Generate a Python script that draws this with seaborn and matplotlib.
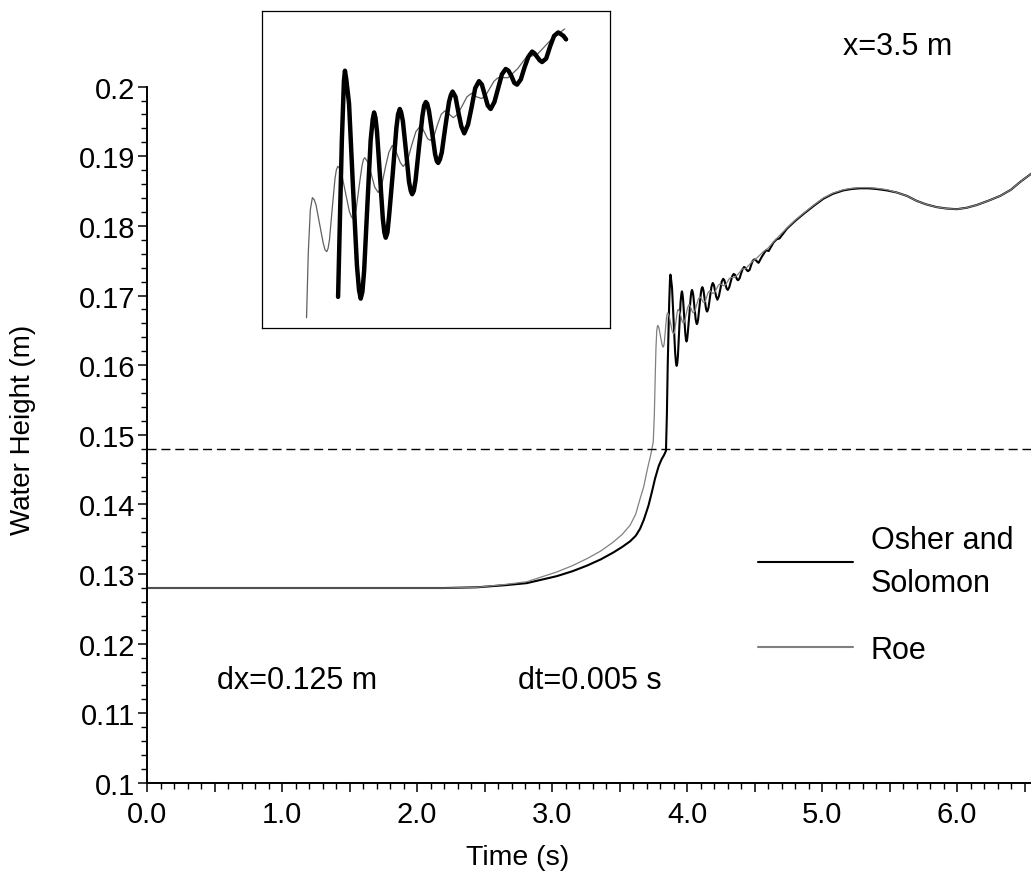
import matplotlib
matplotlib.use("Agg")
import matplotlib.pyplot as plt
import pandas as pd
import seaborn as sns
from matplotlib.ticker import MultipleLocator, FuncFormatter

# ---------------- data (time s, water height m) ----------------
osher = [
    (0.0, .1280), (1.0, .1280), (1.874, .1280), (2.2, .1280), (2.442, .1281),
    (2.65, .1284), (2.813, .1287), (3.035, .1297), (3.15, .1304), (3.257, .1312),
    (3.36, .1321), (3.454, .1331), (3.52, .1339), (3.578, .1347), (3.62, .1355),
    (3.652, .1365), (3.68, .1378), (3.714, .1398), (3.74, .1418), (3.763, .1437),
    (3.79, .1455), (3.812, .1465), (3.83, .1471),
    (3.844, .1477), (3.851, .1530), (3.857, .1600), (3.863, .1650), (3.868, .1690),
    (3.874, .1724), (3.877, .1730), (3.881, .1725), (3.889, .1711), (3.900, .1665),
    (3.912, .1618), (3.918, .1604), (3.923, .1599), (3.928, .1603), (3.933, .1615),
    (3.9425, .1653), (3.952, .1690), (3.958, .1702), (3.962, .1706), (3.966, .1703),
    (3.9705, .1695), (3.979, .1670), (3.9875, .1645), (3.992, .1637), (3.996, .1634),
    (4.001, .1637), (4.006, .1647), (4.0165, .1671), (4.027, .1697), (4.032, .1705),
    (4.037, .1708), (4.041, .1706), (4.046, .1701), (4.055, .1684), (4.064, .1666),
    (4.069, .1661), (4.073, .1659), (4.078, .1661), (4.083, .1667), (4.093, .1686),
    (4.103, .1704), (4.108, .1710), (4.113, .1712), (4.117, .1711), (4.122, .1707),
    (4.131, .1695), (4.140, .1682), (4.145, .1678), (4.149, .1677), (4.154, .1679),
    (4.1595, .1683), (4.170, .1698), (4.1805, .1712), (4.186, .1716), (4.191, .1718),
    (4.1995, .1715), (4.208, .1706), (4.2165, .1698), (4.225, .1694), (4.236, .1699),
    (4.2465, .1709), (4.257, .1720), (4.268, .1724), (4.2765, .1722), (4.285, .1716),
    (4.2935, .1710), (4.302, .1708), (4.313, .1712), (4.324, .1720), (4.335, .1728),
    (4.346, .1731), (4.354, .1730), (4.3625, .1727), (4.371, .1723), (4.379, .1722),
    (4.390, .1725), (4.401, .1732), (4.412, .1738), (4.423, .1741), (4.430, .1740),
    (4.4375, .1738), (4.445, .1736), (4.452, .1735), (4.464, .1737), (4.4755, .1744),
    (4.487, .1750), (4.499, .1752), (4.507, .1751), (4.5145, .1750), (4.522, .1748),
    (4.530, .1747), (4.555, .1756), (4.585, .1765), (4.605, .1764), (4.640, .1776),
    (4.665, .1781), (4.685, .1782), (4.740, .1796), (4.800, .1807), (4.862, .1817),
    (4.94, .1829), (5.010, .1839), (5.08, .1846), (5.158, .1851), (5.22, .1853),
    (5.281, .1854), (5.34, .1854), (5.405, .1853), (5.48, .1851), (5.553, .1848),
    (5.63, .1843), (5.701, .1836), (5.77, .1831), (5.849, .1827), (5.92, .1825),
    (5.998, .1824), (6.07, .1826), (6.146, .1830), (6.23, .1836), (6.319, .1843),
    (6.40, .1852), (6.467, .1863), (6.55, .1875),
]

roe = [
    (0.0, .1280), (1.0, .1280), (1.874, .1280), (2.2, .1280), (2.442, .1281),
    (2.65, .1285), (2.813, .1289), (3.035, .1303), (3.15, .1312), (3.257, .1322),
    (3.36, .1333), (3.454, .1346), (3.52, .1357), (3.578, .1370), (3.62, .1386),
    (3.652, .1408), (3.68, .1426), (3.701, .1446), (3.715, .1458), (3.730, .1470),
    (3.750, .1490),
    (3.758, .1530), (3.765, .1588), (3.770, .1625), (3.776, .1650), (3.782, .1657),
    (3.787, .1656), (3.7925, .1653), (3.803, .1642), (3.8135, .1631), (3.819, .1627),
    (3.824, .1626), (3.828, .1628), (3.832, .1633), (3.840, .1651), (3.848, .1668),
    (3.852, .1673), (3.856, .1675), (3.861, .1674), (3.867, .1671), (3.8785, .1660),
    (3.890, .1649), (3.896, .1646), (3.901, .1645), (3.905, .1646), (3.9095, .1650),
    (3.918, .1663), (3.9265, .1675), (3.931, .1679), (3.935, .1680), (3.945, .1677),
    (3.9545, .1670), (3.964, .1663), (3.974, .1660), (3.984, .1664), (3.9945, .1674),
    (4.005, .1683), (4.015, .1687), (4.023, .1685), (4.031, .1681), (4.039, .1677),
    (4.047, .1675), (4.059, .1678), (4.0715, .1687), (4.084, .1695), (4.096, .1698),
    (4.103, .1697), (4.1105, .1694), (4.118, .1691), (4.125, .1690), (4.136, .1692),
    (4.147, .1699), (4.158, .1705), (4.169, .1707), (4.181, .1705), (4.193, .1703),
    (4.206, .1705), (4.2195, .1710), (4.233, .1715), (4.246, .1717), (4.261, .1715),
    (4.276, .1714), (4.288, .1716), (4.300, .1720), (4.312, .1724), (4.324, .1726),
    (4.338, .1726), (4.353, .1726), (4.380, .1731), (4.407, .1738), (4.436, .1739),
    (4.460, .1744), (4.484, .1749), (4.518, .1754), (4.565, .1763), (4.600, .1768),
    (4.640, .1777), (4.740, .1797), (4.800, .1808), (4.862, .1818), (4.94, .1830),
    (5.010, .1840), (5.08, .1847), (5.158, .1852), (5.22, .1854), (5.281, .1855),
    (5.34, .1855), (5.405, .1854), (5.48, .1852), (5.553, .1848), (5.63, .1843),
    (5.701, .1836), (5.77, .1831), (5.849, .1827), (5.92, .1825), (5.998, .1824),
    (6.07, .1826), (6.146, .1830), (6.23, .1836), (6.319, .1843), (6.40, .1852),
    (6.467, .1863), (6.55, .1875),
]

reference_level = 0.148
inset_roe_start = 3.765
inset_osher_start = 3.857
inset_end = 4.523

labels = ["Osher and\nSolomon", "Roe"]
x_tick_values = [0, 1, 2, 3, 4, 5, 6]

df_o = pd.DataFrame(osher, columns=["t", "h"])
df_r = pd.DataFrame(roe, columns=["t", "h"])

# ---------------- style ----------------
sns.set_style("ticks")
plt.rcParams['font.family'] = ['Liberation Sans', 'DejaVu Sans']
plt.rcParams['text.color'] = 'black'
plt.rcParams['axes.labelcolor'] = 'black'
plt.rcParams['xtick.color'] = 'black'
plt.rcParams['ytick.color'] = 'black'
FS = 21

fig = plt.figure(figsize=(10.31, 8.79), dpi=100)
ax = fig.add_axes([0.1426, 0.1081, 0.8574, 0.7922])

sns.lineplot(data=df_o, x="t", y="h", ax=ax, color="black", lw=1.5,
             estimator=None, label=labels[0])
sns.lineplot(data=df_r, x="t", y="h", ax=ax, color="#808080", lw=0.9,
             estimator=None, label=labels[1])
ax.axhline(reference_level, color="black", lw=1.0, ls=(0, (6.5, 3.5)))

ax.set_xlim(0, 6.548)
ax.set_ylim(0.1, 0.2)
sns.despine(ax=ax, top=True, right=True)
for s in ("left", "bottom"):
    ax.spines[s].set_linewidth(1.4)
    ax.spines[s].set_color("black")

ax.xaxis.set_major_locator(MultipleLocator(0.5))
ax.xaxis.set_minor_locator(MultipleLocator(0.1))
ax.xaxis.set_major_formatter(FuncFormatter(
    lambda v, p: f"{v:.1f}" if any(abs(v - k) < 1e-6 for k in x_tick_values) else ""))
ax.yaxis.set_major_locator(MultipleLocator(0.01))
ax.yaxis.set_minor_locator(MultipleLocator(0.002))
ax.yaxis.set_major_formatter(FuncFormatter(lambda v, p: f"{round(v, 3):g}"))

ax.tick_params(axis="both", which="major", direction="out", length=6.5, width=1.1,
               color="black", labelsize=FS, labelcolor="black")
ax.tick_params(axis="both", which="minor", direction="out", length=4.3, width=1.0,
               color="black")
ax.tick_params(axis="x", which="major", pad=6)
ax.tick_params(axis="y", which="major", pad=2)

ax.set_xlabel("Time (s)", fontsize=20.5, color="black")
ax.set_ylabel("Water Height (m)", fontsize=20, color="black")
ax.xaxis.set_label_coords(0.4197, -0.088)
ax.yaxis.set_label_coords(-0.126, 0.509)

ax.text(5.56, 0.2058, "x=3.5 m", fontsize=22, ha="center", va="center", color="black")
ax.text(1.11, 0.1148, "dx=0.125 m", fontsize=22, ha="center", va="center", color="black")
ax.text(3.28, 0.1148, "dt=0.005 s", fontsize=22, ha="center", va="center", color="black")

leg = ax.legend(loc="upper left", bbox_to_anchor=(0.691, 0.371), frameon=False,
                fontsize=22, handlelength=3.1, handletextpad=0.6,
                labelspacing=1.2, borderpad=0, borderaxespad=0)
for t in leg.get_texts():
    t.set_linespacing(1.6)
    t.set_color("black")
for ln in leg.get_lines():
    ln.set_linewidth(1.5)

# ---------------- inset ----------------
axi = fig.add_axes([0.2541, 0.6257, 0.3375, 0.3606])
io = df_o[(df_o.t >= inset_osher_start) & (df_o.t <= inset_end)]
ir = df_r[(df_r.t >= inset_roe_start) & (df_r.t <= inset_end)]
sns.lineplot(data=ir, x="t", y="h", ax=axi, color="#606060", lw=0.9,
             estimator=None, legend=False)
sns.lineplot(data=io, x="t", y="h", ax=axi, color="black", lw=3.2,
             estimator=None, legend=False)
axi.set_xlim(3.635, 4.650)
axi.set_ylim(0.15821, 0.17643)
axi.set_xticks([])
axi.set_yticks([])
axi.set_xlabel("")
axi.set_ylabel("")
for s in axi.spines.values():
    s.set_visible(True)
    s.set_linewidth(0.9)
    s.set_color("black")

fig.savefig("out.png", dpi=100)
